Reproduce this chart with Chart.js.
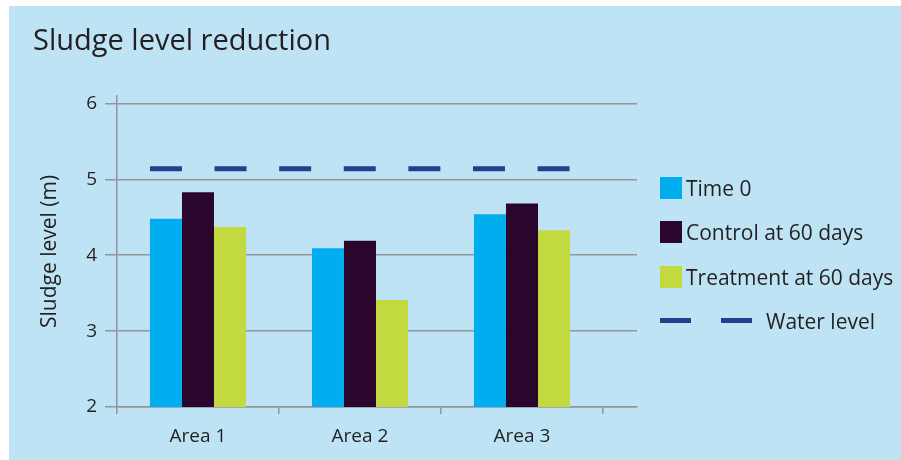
<!DOCTYPE html>
<html>
<head>
<meta charset="utf-8">
<script src="https://cdn.jsdelivr.net/npm/chart.js@4.4.0/dist/chart.umd.min.js"></script>
<style>
  html, body { margin: 0; padding: 0; background: #fff; }
  #wrap { position: relative; width: 901px; height: 460px; overflow: hidden; }
  #panel { position: absolute; left: 9px; top: 6px; width: 892px; height: 454px; background: #bee3f5; }
  #legend { position: absolute; left: 660px; top: 177px; font-family: 'Open Sans'; font-size: 21px; color: #231f20; }
  .row { display: flex; align-items: center; height: 22px; margin-bottom: 22.3px; white-space: nowrap; }
  .box { width: 22px; height: 22px; margin-right: 4px; }
  .dash { width: 31px; height: 5px; }
</style>
</head>
<body>
<div id="wrap">
  <div id="panel"><canvas id="myChart" width="892" height="454"></canvas></div>
  <div id="legend"></div>
</div>
<script>
const areas = ["Area 1", "Area 2", "Area 3"];
const time0 = [4.48, 4.09, 4.54];
const control60 = [4.83, 4.19, 4.68];
const treatment60 = [4.37, 3.41, 4.33];
const waterLevel = 5.14;
const yTicks = [2, 3, 4, 5, 6];

const groupShare = 0.593; // part of each area taken by the bar group
const gridColor = "#939598";
const textColor = "#231f20";

Chart.defaults.font.family = "'Open Sans'";
Chart.defaults.color = textColor;

// bars sit at the middle of each area on a linear x axis
const toPoints = (vals) => vals.map((v, i) => ({ x: i + 0.5, y: v }));

const datasets = [
    { label: "Time 0", data: toPoints(time0), backgroundColor: "#00aeef" },
    { label: "Control at 60 days", data: toPoints(control60), backgroundColor: "#2a062c" },
    { label: "Treatment at 60 days", data: toPoints(treatment60), backgroundColor: "#c3d940" },
    {
        type: "line",
        label: "Water level",
        data: [
            { x: 0.5 - groupShare / 2, y: waterLevel },
            { x: areas.length - 0.5 + groupShare / 2, y: waterLevel },
        ],
        borderColor: "#243f8e",
        backgroundColor: "#243f8e",
        borderWidth: 5,
        borderDash: [32, 32.6],
        pointRadius: 0,
        fill: false,
    },
];

const ctx = document.getElementById("myChart").getContext("2d");

const myChart = new Chart(ctx, {
    type: "bar",
    data: { datasets: datasets },
    options: {
        responsive: false,
        animation: false,
        events: [],
        // x ticks come every half area, and Chart.js sizes bars from tick spacing too
        categoryPercentage: groupShare * 2,
        barPercentage: 1.0,
        layout: { padding: { left: 24, right: 264, top: 0, bottom: 0 } },
        plugins: {
            legend: { display: false },
            tooltip: { enabled: false },
            title: {
                display: true,
                text: "Sludge level reduction",
                align: "start",
                color: textColor,
                font: { size: 29, weight: "normal", lineHeight: 1.2 },
                padding: { top: 18, bottom: 37 },
            },
        },
        scales: {
            x: {
                type: "linear",
                min: 0,
                max: 3.21,
                offset: false,
                afterFit: (s) => { s.height = 53; },
                border: { color: gridColor, width: 1.5 },
                grid: {
                    offset: false,
                    drawOnChartArea: false,
                    tickLength: 7,
                    lineWidth: 1.5,
                    color: (c) => (Number.isInteger(c.tick.value) ? gridColor : "rgba(0,0,0,0)"),
                },
                ticks: {
                    stepSize: 0.5,
                    includeBounds: false,
                    autoSkip: false,
                    maxRotation: 0,
                    padding: 11,
                    font: { size: 19 },
                    callback: (v) => (Number.isInteger(v) ? "" : areas[Math.floor(v)]),
                },
            },
            y: {
                min: yTicks[0],
                max: 6.1,
                afterFit: (s) => { s.width = 84; },
                border: { color: gridColor, width: 1.5 },
                grid: { color: gridColor, lineWidth: 1.5, tickLength: 12 },
                ticks: {
                    stepSize: 1,
                    includeBounds: false,
                    padding: 8,
                    font: { size: 19 },
                },
                title: {
                    display: true,
                    text: "Sludge level (m)",
                    color: textColor,
                    font: { size: 21 },
                    padding: { top: 4, bottom: 0 },
                },
            },
        },
    },
});

// legend built from the chart's datasets
const legendEl = document.getElementById("legend");
myChart.data.datasets.forEach((ds) => {
    const row = document.createElement("div");
    row.className = "row";
    if (ds.type === "line") {
        const d1 = document.createElement("div");
        d1.className = "dash";
        d1.style.background = ds.borderColor;
        const d2 = d1.cloneNode();
        d2.style.marginLeft = "30px";
        d2.style.marginRight = "14px";
        row.appendChild(d1);
        row.appendChild(d2);
    } else {
        const box = document.createElement("div");
        box.className = "box";
        box.style.background = ds.backgroundColor;
        row.appendChild(box);
    }
    const txt = document.createElement("span");
    txt.textContent = ds.label;
    row.appendChild(txt);
    legendEl.appendChild(row);
});
</script>
</body>
</html>
